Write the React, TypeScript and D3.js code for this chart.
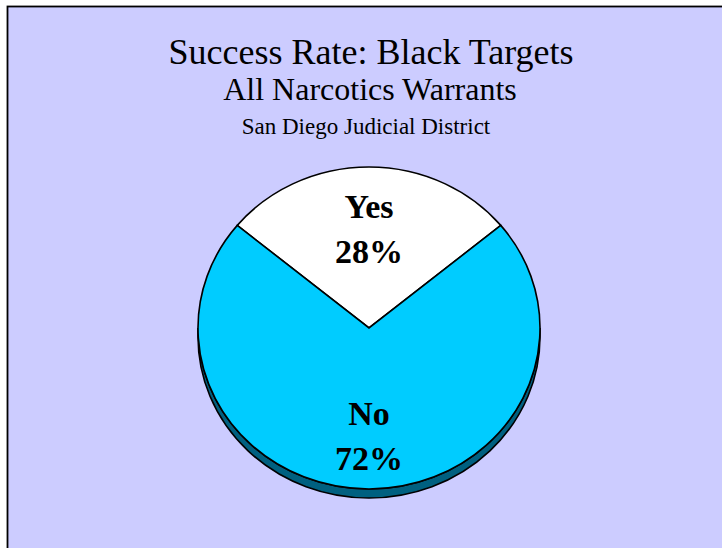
import React from "react";
import * as d3 from "d3";

const categories = ["Yes", "No"];
const values = [28, 72];
const sliceColors = ["#FFFFFF", "#00CCFF"];
const titleLines = ["Success Rate: Black Targets", "All Narcotics Warrants", "San Diego Judicial District"];

const W = 722;
const H = 548;
const cx = 369;
const cy = 328;
const rx = 171;
const ry = 161;
const depth = 9;

export default function App() {
  const total = d3.sum(values);
  const half = (values[0] / total) * Math.PI;
  const pie = d3.pie<number>().sort(null).startAngle(-half).endAngle(2 * Math.PI - half);
  const arcs = pie(values);
  const arcGen = d3.arc<d3.PieArcDatum<number>>().innerRadius(0).outerRadius(rx);
  const sy = ry / rx;

  // side wall (visible lower half)
  const side =
    `M${cx - rx},${cy} L${cx - rx},${cy + depth} ` +
    `A${rx},${ry} 0 0 0 ${cx + rx},${cy + depth} L${cx + rx},${cy} ` +
    `A${rx},${ry} 0 0 1 ${cx - rx},${cy} Z`;

  const labelFrac = [0.62, 0.665];

  return (
    <svg width={W} height={H} style={{ position: "absolute", left: 0, top: 0 }}>
      <rect x={0} y={0} width={W} height={H} fill="#FFFFFF" />
      <rect x={7.5} y={6.5} width={W + 20} height={H + 20} fill="#CCCCFF" stroke="#000" strokeWidth={1.8} />
      <g fontFamily="'Liberation Serif', 'Times New Roman', serif" fill="#000" textAnchor="middle">
        <text x={371} y={64} fontSize={36}>{titleLines[0]}</text>
        <text x={370} y={100} fontSize={32}>{titleLines[1]}</text>
        <text x={366} y={134} fontSize={23}>{titleLines[2]}</text>
      </g>
      <path d={side} fill="#006080" stroke="#000" strokeWidth={1.6} />
      <g transform={`translate(${cx},${cy}) scale(1,${sy})`}>
        {arcs.map((a, i) => (
          <path
            key={categories[i]}
            d={arcGen(a) || ""}
            fill={sliceColors[i]}
            stroke="#000"
            strokeWidth={1.6}
            vectorEffect="non-scaling-stroke"
          />
        ))}
      </g>
      <g fontFamily="'Liberation Serif', 'Times New Roman', serif" fontWeight="bold" fontSize={34} textAnchor="middle" fill="#000">
        {arcs.map((a, i) => {
          const mid = (a.startAngle + a.endAngle) / 2;
          const x = cx + Math.sin(mid) * rx * labelFrac[i];
          const y = cy - Math.cos(mid) * ry * labelFrac[i];
          const pct = Math.round((values[i] / total) * 100);
          return (
            <text key={categories[i]} x={x} y={y}>
              <tspan x={x} dy={-10}>{categories[i]}</tspan>
              <tspan x={x} dy={45}>{pct}%</tspan>
            </text>
          );
        })}
      </g>
    </svg>
  );
}
